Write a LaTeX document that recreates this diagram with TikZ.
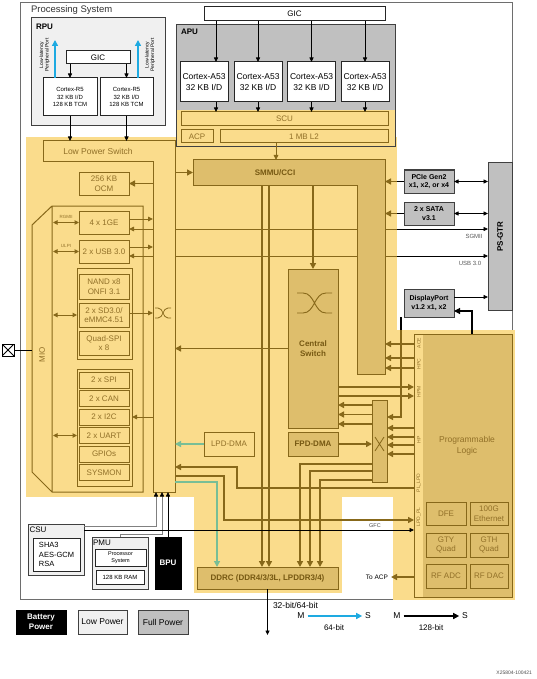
\documentclass[tikz,border=0pt]{standalone}
\usepackage{fontspec}
\setmainfont{Liberation Sans}
\usetikzlibrary{arrows.meta}
\definecolor{ylw}{RGB}{250,220,140}
\definecolor{dylw}{RGB}{222,190,108}
\definecolor{brn}{RGB}{135,104,26}
\definecolor{btxt}{RGB}{145,112,40}
\definecolor{bdark}{RGB}{118,88,18}
\definecolor{gry}{RGB}{192,192,192}
\definecolor{lgry}{RGB}{240,240,240}
\definecolor{grn}{RGB}{120,190,150}
\definecolor{blu}{RGB}{30,170,225}
\definecolor{frm}{RGB}{110,110,110}

\begin{document}
\begin{tikzpicture}[x=1pt, y=-1pt,
  box/.style={draw, line width=1pt, inner sep=0pt, outer sep=0pt, align=center, font=\fontsize{8}{9.5}\selectfont},
  wbox/.style={box, draw=black!85, fill=white},
  lbox/.style={box, draw=black!75, fill=lgry},
  gbox/.style={box, draw=black!75, fill=gry, font=\fontsize{7}{8.5}\selectfont\bfseries},
  ybox/.style={box, draw=brn, fill=ylw, text=btxt},
  dbox/.style={box, draw=brn, fill=dylw, text=bdark, font=\fontsize{8}{9.5}\selectfont\bfseries},
  pbox/.style={box, draw=brn, fill=dylw, text=btxt},
  lbl/.style={inner sep=0pt, outer sep=0pt, font=\fontsize{6}{7}\selectfont},
  barr/.style={draw=brn, line width=1.6pt, -{Triangle[length=6pt,width=6pt]}},
  tarr/.style={draw=brn, line width=0.9pt, -{Triangle[length=5pt,width=4.5pt]}},
  darr/.style={draw=brn, line width=1pt, {Triangle[length=4.5pt,width=4.5pt]}-{Triangle[length=4.5pt,width=4.5pt]}},
  karr/.style={draw=black, line width=0.8pt, -{Triangle[length=4.5pt,width=4pt]}},
  kdarr/.style={draw=black, line width=0.8pt, {Triangle[length=4.5pt,width=4pt]}-{Triangle[length=4.5pt,width=4pt]}},
  sarr/.style={draw=black!50, line width=0.8pt, -{Triangle[length=4.5pt,width=4pt,color=black]}},
  garr/.style={draw=grn, line width=1.3pt, -{Triangle[length=6pt,width=6pt]}},
  xarr/.style={draw=blu, line width=1.8pt, -{Triangle[length=6pt,width=6pt]}}]

\fill[white] (0,0) rectangle (536,679);
\useasboundingbox (0,0) rectangle (536,679);
\node[draw=frm, line width=1pt, inner sep=0, outer sep=0, minimum width=492, minimum height=596] (ps) at (266,301) {};
\node[lbl, anchor=west, font=\fontsize{9.5}{11}\selectfont, text=black!80] (pstitle) at (31,10.5) {Processing System};

% power domains
\fill[ylw] (26,137) rectangle (397,497);
\fill[ylw] (393,330) rectangle (515,600);
\fill[ylw] (194,497) rectangle (342,593);

% RPU
\node[lbox, minimum width=134, minimum height=108] (rpu) at (98,72) {};
\node[lbl, anchor=west, font=\fontsize{8}{9}\selectfont\bfseries] (rputitle) at (36,27) {RPU};
\node[wbox, minimum width=64, minimum height=13] (rgic) at (98,57.5) {GIC};
\node[wbox, minimum width=54, minimum height=38, font=\fontsize{6}{7.5}\selectfont] (r5a) at (70,97) {Cortex-R5\\32 KB I/D\\128 KB TCM};
\node[wbox, minimum width=53, minimum height=38, font=\fontsize{6}{7.5}\selectfont] (r5b) at (126.5,97) {Cortex-R5\\32 KB I/D\\128 KB TCM};
\draw[karr] (rgic.south -| r5a) -- (r5a.north);
\draw[karr] (rgic.south -| r5b) -- (r5b.north);
\draw[xarr] ([xshift=-15pt]r5a.north) -- ++(0,-38);
\draw[xarr] ([xshift=11.5pt]r5b.north) -- ++(0,-38);
\node[lbl, rotate=90, align=center, font=\fontsize{5}{5.5}\selectfont] (llpa) at (44.5,55) {Low-latency\\Peripheral Port};
\node[lbl, rotate=90, align=center, font=\fontsize{5}{5.5}\selectfont] (llpb) at (150,55) {Low-latency\\Peripheral Port};

% APU
\node[box, draw=black!75, fill=gry, minimum width=219, minimum height=122] (apu) at (285.5,86) {};
\fill[ylw] (176.5,110) rectangle (394.5,146.5);
\draw[black!75, line width=1pt] (apu.north west) rectangle (apu.south east);
\node[lbl, anchor=north west, font=\fontsize{8}{9}\selectfont\bfseries] (aputitle) at (181,29) {APU};
\node[wbox, minimum width=181, minimum height=14] (gic) at (294.5,14) {GIC};
\node[wbox, minimum width=48, minimum height=40, font=\fontsize{8.5}{10.5}\selectfont] (a1) at (204,82) {Cortex-A53\\32 KB I/D};
\node[wbox, minimum width=48, minimum height=40, font=\fontsize{8.5}{10.5}\selectfont] (a2) at (258,82) {Cortex-A53\\32 KB I/D};
\node[wbox, minimum width=48, minimum height=40, font=\fontsize{8.5}{10.5}\selectfont] (a3) at (311.5,82) {Cortex-A53\\32 KB I/D};
\node[wbox, minimum width=48, minimum height=40, font=\fontsize{8.5}{10.5}\selectfont] (a4) at (365,82) {Cortex-A53\\32 KB I/D};
\node[ybox, minimum width=207, minimum height=14] (scu) at (284.5,119) {SCU};
\node[ybox, minimum width=32, minimum height=13] (acp) at (197,136.5) {ACP};
\node[ybox, minimum width=168, minimum height=13] (l2) at (304,136.5) {1 MB L2};
\draw[karr] ([xshift=12pt]a1.north |- gic.south) -- ([xshift=12pt]a1.north);
\draw[karr] (gic.south -| a2) -- (a2.north);
\draw[karr] (gic.south -| a3) -- (a3.north);
\draw[karr] (gic.south -| a4) -- (a4.north);
\draw[karr] ([xshift=12pt]a1.south) -- ([xshift=12pt]a1.south |- scu.north);
\draw[karr] (a2.south) -- (a2.south |- scu.north);
\draw[karr] (a3.south) -- (a3.south |- scu.north);
\draw[karr] (a4.south) -- (a4.south |- scu.north);

% high speed I/O
\node[gbox, minimum width=50, minimum height=23] (pcie) at (429,181.5) {PCIe Gen2\\x1, x2, or x4};
\node[gbox, minimum width=50, minimum height=23] (sata) at (429,213.5) {2 x SATA\\v3.1};
\node[gbox, minimum width=24, minimum height=147] (gtr) at (500,236.5) {};
\node[lbl, rotate=90, font=\fontsize{8}{9}\selectfont\bfseries] (gtrlabel) at (gtr) {PS-GTR};
\node[gbox, minimum width=50, minimum height=28] (dp) at (429,303) {DisplayPort\\v1.2 x1, x2};

\node[inner sep=0, outer sep=0, minimum width=22, minimum height=351] (lpcol) at (164,316.5) {};
\node[inner sep=0, outer sep=0, minimum width=28, minimum height=214] (smcol) at (371,267) {};
\coordinate (ylwE) at (397,330);

\draw[brn, line width=0.7pt] (lpcol.east |- 0,229) -- (ylwE |- 0,229);
\draw[karr, line width=0.7pt] (ylwE |- 0,229) -- (gtr.west |- 0,229);
\node[lbl, text=black!65] (sgmii) at (474,236) {SGMII};
\draw[brn, line width=0.7pt] (lpcol.east |- 0,256) -- (ylwE |- 0,256);
\draw[karr, line width=0.7pt] (ylwE |- 0,256) -- (gtr.west |- 0,256);
\node[lbl, text=black!65] (usbg) at (470,263) {USB 3.0};

% low power switch
\draw[brn, line width=1pt, fill=ylw] (43,141) -- (175,141) -- (175,492) -- (153,492) -- (153,162) -- (43,162) -- cycle;
\node[ybox, draw=none, fill=none, minimum width=110, minimum height=21, font=\fontsize{8.5}{10}\selectfont] (lpsw) at (98,151.5) {Low Power Switch};
\draw[karr] (r5a.south) -- (r5a.south |- lpsw.north);
\draw[karr] (r5b.south) -- (r5b.south |- lpsw.north);
\draw[brn, line width=0.7pt] (155,308) -- (158,308) to[out=0,in=180] (168,318) -- (171,318) (155,318) -- (158,318) to[out=0,in=180] (168,308) -- (171,308);

% SMMU/CCI
\draw[brn, line width=1pt, fill=dylw] (193,160) -- (385,160) -- (385,374) -- (357,374) -- (357,185) -- (193,185) -- cycle;
\node[dbox, draw=none, fill=none, minimum width=164, minimum height=25] (smmu) at (275,172.5) {SMMU/CCI};
\draw[tarr] ([xshift=-28pt]l2.south) -- ([xshift=-28pt]l2.south |- smmu.north);
\draw[barr] (lpcol.east |- smmu.west) -- (smmu.west);
\draw[line width=1.6pt] (pcie.west) -- (ylwE |- pcie.west);
\draw[barr] (ylwE |- pcie.west) -- (smcol.east |- pcie.west);
\draw[line width=1.6pt] (sata.west) -- (ylwE |- sata.west);
\draw[barr] (ylwE |- sata.west) -- (smcol.east |- sata.west);
\draw[kdarr] (pcie.east) -- (gtr.west |- pcie.east);
\draw[kdarr] (sata.east) -- (gtr.west |- sata.east);
\draw[karr] ([yshift=6pt]dp.east) -- ([yshift=6pt]dp.east -| gtr.west);

% OCM and MIO
\node[ybox, minimum width=50, minimum height=23] (ocm) at (104,183.5) {256 KB\\OCM};
\draw[barr] (lpcol.west |- ocm.east) -- (ocm.east);
\draw[brn, line width=1pt] (52,206) -- (143,206) -- (143,492) -- (52,492) -- (32,472) -- (32,225) -- cycle (52,206) -- (52,492);
\node[lbl, rotate=90, text=btxt, font=\fontsize{8}{9}\selectfont] (mio) at (42,355) {MIO};
\coordinate (mioL) at (32,350);
\coordinate (mioI) at (53,350);
\node[draw, line width=0.8pt, minimum size=12, inner sep=0, outer sep=0,
  path picture={\draw (path picture bounding box.south west) -- (path picture bounding box.north east) (path picture bounding box.north west) -- (path picture bounding box.south east);}] (pad) at (8,350) {};
\draw[line width=0.8pt] (pad) -- (mioL);

\node[ybox, minimum width=50, minimum height=23] (gige) at (104,222.5) {4 x 1GE};
\node[ybox, minimum width=50, minimum height=23] (usb) at (104,251.5) {2 x USB 3.0};
\node[ybox, minimum width=55, minimum height=91] (stor) at (104.5,313.5) {};
\node[ybox, minimum width=50, minimum height=25] (nand) at (104,286.5) {NAND x8\\ONFI 3.1};
\node[ybox, minimum width=50, minimum height=24] (sd) at (104,315) {2 x SD3.0/\\eMMC4.51};
\node[ybox, minimum width=50, minimum height=24] (qspi) at (104,343) {Quad-SPI\\x 8};
\node[ybox, minimum width=55, minimum height=117] (per) at (104.5,427.5) {};
\node[ybox, minimum width=50, minimum height=16] (spi) at (104,380) {2 x SPI};
\node[ybox, minimum width=50, minimum height=16] (can) at (104,398.5) {2 x CAN};
\node[ybox, minimum width=50, minimum height=16] (i2c) at (104,417) {2 x I2C};
\node[ybox, minimum width=50, minimum height=16] (uart) at (104,435.5) {2 x UART};
\node[ybox, minimum width=50, minimum height=16] (gpio) at (104,454) {GPIOs};
\node[ybox, minimum width=50, minimum height=16] (sysmon) at (104,472.5) {SYSMON};

\draw[darr] (mioI |- gige.west) -- (gige.west);
\node[lbl, text=btxt, font=\fontsize{4.5}{5}\selectfont] (rgmii) at (66,216.5) {RGMII};
\draw[darr] (mioI |- usb.west) -- (usb.west);
\node[lbl, text=btxt, font=\fontsize{4.5}{5}\selectfont] (ulpi) at (66,245.5) {ULPI};
\draw[darr] (mioI |- sd.west) -- (sd.west -| stor.west);
\draw[darr] (mioI |- uart.west) -- (uart.west -| per.west);
\draw[tarr] ([yshift=3.5pt]gige.east) -- ([yshift=3.5pt]gige.east -| lpcol.west);
\draw[tarr] ([yshift=-6.5pt]gige.east -| lpcol.west) -- ([yshift=-6.5pt]gige.east);
\draw[tarr] ([yshift=4.5pt]usb.east) -- ([yshift=4.5pt]usb.east -| lpcol.west);
\draw[tarr] ([yshift=-4.5pt]usb.east -| lpcol.west) -- ([yshift=-4.5pt]usb.east);
\draw[tarr] ([yshift=2pt]sd.east) -- ([yshift=2pt]sd.east -| lpcol.west);
\draw[tarr] (i2c.east -| lpcol.west) -- (i2c.east -| per.east);

% central switch and DMA
\node[dbox, minimum width=50, minimum height=159] (cs) at (313,348.5) {Central\\Switch};
\draw[brn, line width=0.9pt] (297,293) -- (303,293) to[out=0,in=180] (326,313) -- (332,313) (297,313) -- (303,313) to[out=0,in=180] (326,293) -- (332,293);
\node[dbox, minimum width=50, minimum height=24] (fpd) at (313,444) {FPD-DMA};
\node[dbox, minimum width=15, minimum height=82] (xbar) at (379.5,441) {};
\draw[brn, line width=0.8pt] (375,437) -- (384,451) (375,451) -- (384,437);
\node[ybox, minimum width=50, minimum height=24] (lpdma) at (229,444) {LPD-DMA};
\node[dbox, minimum width=141, minimum height=22] (ddrc) at (267.5,578) {DDRC (DDR4/3/3L, LPDDR3/4)};

% programmable logic
\node[box, draw=brn, fill=dylw, minimum width=98, minimum height=263] (pl) at (463,465.5) {};
\fill[ylw] (414.5,334.5) rectangle (423,596.5);
\draw[brn, line width=1pt] (pl.north west) rectangle (pl.south east);
\node[lbl, text=btxt, align=center, font=\fontsize{8.5}{10.5}\selectfont] (pltitle) at (467,446) {Programmable\\Logic};
\node[lbl, rotate=90, text=btxt, font=\fontsize{5}{6}\selectfont] (pace) at (419,343) {ACE};
\node[lbl, rotate=90, text=btxt, font=\fontsize{5}{6}\selectfont] (phpc) at (419,364) {HPC};
\node[lbl, rotate=90, text=btxt, font=\fontsize{5}{6}\selectfont] (phpm) at (419,392) {HPM};
\node[lbl, rotate=90, text=btxt, font=\fontsize{5}{6}\selectfont] (php) at (419,440) {HP};
\node[lbl, rotate=90, text=btxt, font=\fontsize{5}{6}\selectfont] (pllpd) at (419,483) {PL\_LPD};
\node[lbl, rotate=90, text=btxt, font=\fontsize{5}{6}\selectfont] (plpdpl) at (419,517) {LPD\_PL};
\node[pbox, minimum width=40, minimum height=23] (dfe) at (446,513.5) {DFE};
\node[pbox, minimum width=38, minimum height=23] (eth) at (489,513.5) {100G\\Ethernet};
\node[pbox, minimum width=40, minimum height=24] (gty) at (446,545) {GTY\\Quad};
\node[pbox, minimum width=38, minimum height=24] (gth) at (489,545) {GTH\\Quad};
\node[pbox, minimum width=40, minimum height=24] (adc) at (446,576) {RF ADC};
\node[pbox, minimum width=38, minimum height=24] (dac) at (489,576) {RF DAC};

% interconnect
\draw[barr] (smmu.south -| cs) -- (cs.north);
\draw[barr] (cs.west) -- (cs.west -| lpcol.east);
\draw[barr] (fpd.east) -- (xbar.west |- fpd.east);
\draw[barr] (xbar.west |- 0,405) -- (cs.east |- 0,405);
\draw[barr] (xbar.west |- 0,414.5) -- (cs.east |- 0,414.5);
\draw[barr] (xbar.west |- 0,424) -- (cs.east |- 0,424);
\draw[barr] (pl.west |- 0,344) -- (smcol.east |- 0,344);
\draw[barr] (pl.west |- 0,358) -- (smcol.east |- 0,358);
\draw[barr] (pl.west |- 0,368) -- (smcol.east |- 0,368);
\draw[barr] (cs.east |- 0,387) -- (pl.west |- 0,387);
\draw[barr] (cs.east |- 0,396) -- (pl.west |- 0,396);
\draw[barr] (pl.west |- 0,428) -- (xbar.east |- 0,428);
\draw[barr] (pl.west |- 0,437) -- (xbar.east |- 0,437);
\draw[barr] (pl.west |- 0,445) -- (xbar.east |- 0,445);
\draw[barr] (pl.west |- 0,454) -- (xbar.east |- 0,454);
\draw[barr] (xbar.west |- 0,464) -| (ddrc.north -| 300,0);
\draw[barr] (xbar.west |- 0,471) -| (ddrc.north -| 310,0);
\draw[barr] (xbar.west |- 0,480) -| (ddrc.north -| 320,0);
\draw[barr] (smmu.south -| 262,0) -- (ddrc.north -| 262,0);
\draw[barr] (smmu.south -| 269,0) -- (ddrc.north -| 269,0);
\draw[barr] (pl.west |- 0,488) -| (237,467) -- (lpcol.east |- 0,467);
\draw[barr] (lpcol.east |- 0,476) -| (224,520) -- (pl.west |- 0,520);
\draw[garr] (lpdma.west) -- (lpdma.west -| lpcol.east);
\draw[garr] (lpcol.east |- 0,482) -| (ddrc.north -| 217,0);
\draw[line width=1.2pt] ([xshift=-3pt]dp.south west) -- ([xshift=-3pt]dp.south west |- ylwE);
\draw[barr, line width=1.2pt] ([xshift=-3pt]dp.south west |- ylwE) |- (xbar.east |- 0,417);
\draw[karr, line width=1.2pt, -{Triangle[length=6pt,width=6pt]}] ([xshift=9pt]pl.north) |- ([yshift=-8pt]dp.east);
\draw[barr] (pl.west |- 0,577) -- ++(-23,0) coordinate (toacp);
\node[lbl, anchor=east, font=\fontsize{6.5}{7.5}\selectfont] (toacplabel) at ([xshift=-3pt]toacp) {To ACP};
\draw[karr] (ddrc.south) -- ++(0,46);
\node[lbl, anchor=west, font=\fontsize{8.5}{10}\selectfont] (ddrw) at (273,605) {32-bit/64-bit};

% CSU, PMU, BPU
\node[lbox, minimum width=56, minimum height=51] (csu) at (56,549.5) {};
\node[lbl, anchor=west, font=\fontsize{8}{9}\selectfont] (csutitle) at (29.5,530) {CSU};
\node[wbox, minimum width=47, minimum height=33, align=left, font=\fontsize{7.5}{9.5}\selectfont] (csuin) at (56.5,554.5) {SHA3\\AES-GCM\\RSA};
\node[lbox, minimum width=56, minimum height=52] (pmu) at (120,563) {};
\node[lbl, anchor=west, font=\fontsize{8}{9}\selectfont] (pmutitle) at (93,543) {PMU};
\node[wbox, minimum width=51, minimum height=17, font=\fontsize{5.5}{6.5}\selectfont] (psys) at (120.5,557.5) {Processor\\System};
\node[wbox, minimum width=48, minimum height=14, font=\fontsize{6}{7}\selectfont] (pram) at (120,577) {128 KB RAM};
\node[box, fill=black, text=white, font=\fontsize{8}{9}\selectfont\bfseries, minimum width=26, minimum height=52] (bpu) at (168,563) {BPU};
\coordinate (lpb1) at ([xshift=-8pt]lpcol.south);
\coordinate (lpb2) at ([xshift=-2pt]lpcol.south);
\draw[sarr] (csu.east |- 0,526) -| (lpb1);
\draw[sarr] (pmu.north) |- (lpb2 |- 0,534) -- (lpb2);
\draw[karr] (bpu.north) -- (bpu.north |- lpcol.south);
\draw[karr, line width=0.7pt] (csu.east |- 0,530) -- (pl.west |- 0,530);
\node[lbl, font=\fontsize{5.5}{6}\selectfont, text=black!70] (gfc) at (375,526) {GFC};

% legend
\node[box, fill=black, text=white, font=\fontsize{8}{9.5}\selectfont\bfseries, minimum width=50, minimum height=24] (lbat) at (41,622) {Battery\\Power};
\node[lbox, minimum width=49, minimum height=24, font=\fontsize{8.5}{10}\selectfont] (llow) at (102.5,622) {Low Power};
\node[gbox, minimum width=50, minimum height=24, font=\fontsize{8.5}{10}\selectfont] (lfull) at (163,622) {Full Power};
\node[lbl, font=\fontsize{8.5}{10}\selectfont] (m1) at (301,616) {M};
\node[lbl, font=\fontsize{8.5}{10}\selectfont] (s1) at (368,616) {S};
\draw[xarr] ([xshift=3pt]m1.east) -- ([xshift=-3pt]s1.west);
\node[lbl, font=\fontsize{8}{9}\selectfont] (w64) at (334,628) {64-bit};
\node[lbl, font=\fontsize{8.5}{10}\selectfont] (m2) at (397,616) {M};
\node[lbl, font=\fontsize{8.5}{10}\selectfont] (s2) at (465,616) {S};
\draw[draw=black, line width=1.8pt, -{Triangle[length=6pt,width=6pt]}] ([xshift=3pt]m2.east) -- ([xshift=-3pt]s2.west);
\node[lbl, font=\fontsize{8}{9}\selectfont] (w128) at (431,628) {128-bit};
\node[lbl, anchor=east, font=\fontsize{5}{6}\selectfont, text=black!70] (xref) at (532,673) {X25804-100421};
\end{tikzpicture}
\end{document}
